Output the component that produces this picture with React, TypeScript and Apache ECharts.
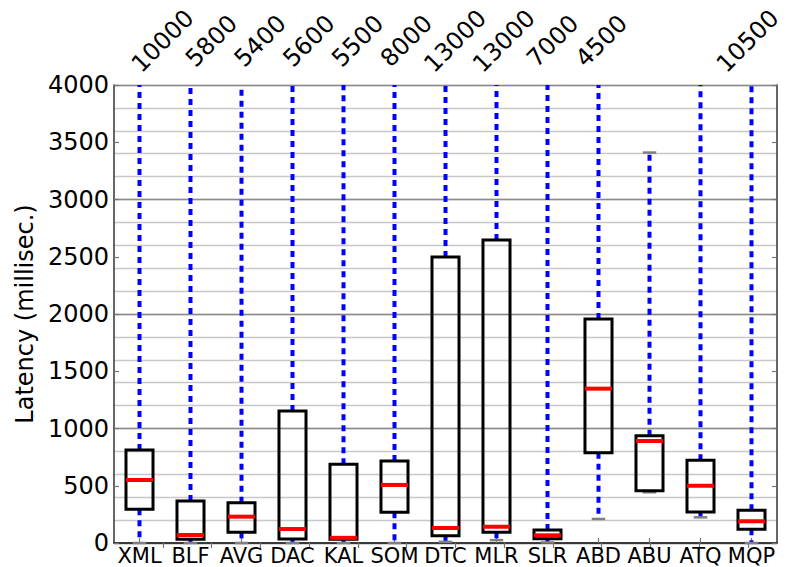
import React, { useEffect, useRef } from "react";
import * as echarts from "echarts";

// Systems on the x axis
const categories = ["XML", "BLF", "AVG", "DAC", "KAL", "SOM", "DTC", "MLR", "SLR", "ABD", "ABU", "ATQ", "MQP"];

// Box-plot statistics, latency in milliseconds
const whiskerLow = [0, 0, 0, 0, 0, 0, 10, 25, 5, 210, 443, 224, 0];
const quartile1 = [294, 32, 93, 35, 32, 268, 64, 93, 38, 789, 457, 271, 120];
const medians = [550, 70, 230, 122, 45, 507, 131, 142, 67, 1348, 891, 500, 190];
const quartile3 = [812, 367, 352, 1153, 687, 716, 2498, 2646, 114, 1956, 937, 722, 286];
const whiskerHigh = [10000, 5800, 5400, 5600, 5500, 8000, 13000, 13000, 7000, 4500, 3410, 10500, 10500];

// Maximum values printed along the top axis
const maxLabels = ["10000", "5800", "5400", "5600", "5500", "8000", "13000", "13000", "7000", "4500", "", "", "10500"];

const Y_MAX = 4000;
const TOP_AXIS_MAX = 13.6;
const BOX_WIDTH = 0.53;
const FONT = "DejaVu Sans";

export default function App() {
  const ref = useRef<HTMLDivElement>(null);

  useEffect(() => {
    if (!ref.current) return;
    const chart = echarts.init(ref.current, null, { renderer: "svg" });

    const data = categories.map((_, i) => [
      i,
      whiskerLow[i],
      quartile1[i],
      medians[i],
      quartile3[i],
      whiskerHigh[i],
    ]);

    const axisLineStyle = { color: "#333", width: 1.5 };
    const tickStyle = { color: "#777", width: 1.2 };

    chart.setOption({
      animation: false,
      backgroundColor: "#fff",
      grid: { left: 114, right: 9, top: 85, bottom: 24, containLabel: false, outerBoundsMode: "none" },
      xAxis: [
        {
          type: "category",
          data: categories,
          position: "bottom",
          boundaryGap: true,
          axisLine: { show: true, lineStyle: axisLineStyle },
          axisTick: { show: true, inside: true, length: 5, alignWithLabel: true, lineStyle: tickStyle },
          axisLabel: { interval: 0, color: "#000", fontSize: 21, fontFamily: FONT, margin: 2 },
          splitLine: { show: false },
        },
        {
          type: "value",
          position: "top",
          min: 0,
          max: TOP_AXIS_MAX,
          interval: 1,
          axisLine: { show: true, lineStyle: axisLineStyle },
          axisTick: { show: true, inside: true, length: 5, lineStyle: tickStyle },
          axisLabel: {
            show: true,
            rotate: 45,
            align: "center",
            verticalAlign: "middle",
            margin: 44,
            showMinLabel: false,
            showMaxLabel: false,
            color: "#000",
            fontSize: 24,
            fontFamily: FONT,
            formatter: (v: number) => {
              const k = Math.round(v);
              return k >= 1 && k <= maxLabels.length ? maxLabels[k - 1] : "";
            },
          },
          splitLine: { show: false },
        },
      ],
      yAxis: [
        {
          type: "value",
          min: 0,
          max: Y_MAX,
          interval: 500,
          position: "left",
          name: "Latency (millisec.)",
          nameLocation: "middle",
          nameRotate: 90,
          nameGap: 67,
          nameTextStyle: { color: "#000", fontSize: 24, fontFamily: FONT },
          axisLine: { show: true, lineStyle: axisLineStyle },
          axisTick: { show: true, inside: true, length: 5, lineStyle: tickStyle },
          axisLabel: {
            color: "#000",
            fontSize: 24,
            fontFamily: FONT,
            margin: 5,
            formatter: (v: number) => String(v),
          },
          splitLine: { show: false },
        },
        {
          // fine grid every 200 ms
          type: "value",
          min: 0,
          max: Y_MAX,
          interval: 200,
          position: "left",
          axisLine: { show: false },
          axisTick: { show: false },
          axisLabel: { show: false },
          splitLine: { show: true, lineStyle: { color: "#c8c8c8", width: 1.3 } },
        },
        {
          // stronger grid every 1000 ms
          type: "value",
          min: 0,
          max: Y_MAX,
          interval: 1000,
          position: "left",
          axisLine: { show: false },
          axisTick: { show: false },
          axisLabel: { show: false },
          splitLine: { show: true, lineStyle: { color: "#8a8a8a", width: 1.3 } },
        },
        {
          type: "value",
          min: 0,
          max: Y_MAX,
          interval: 500,
          position: "right",
          axisLine: { show: true, lineStyle: axisLineStyle },
          axisTick: { show: true, inside: true, length: 5, lineStyle: tickStyle },
          axisLabel: { show: false },
          splitLine: { show: false },
        },
      ],
      series: [
        {
          type: "custom",
          xAxisIndex: 0,
          yAxisIndex: 0,
          data,
          encode: { x: 0, y: [1, 2, 3, 4, 5] },
          renderItem: (_params: any, api: any) => {
            const i = api.value(0);
            const lo = api.value(1);
            const q1 = api.value(2);
            const med = api.value(3);
            const q3 = api.value(4);
            const hi = api.value(5);
            const cx = api.coord([i, 0])[0];
            const band = api.size([1, 0])[0];
            const half = (band * BOX_WIDTH) / 2;
            const capHalf = half / 2;
            const y = (v: number) => api.coord([i, Math.min(v, Y_MAX)])[1];
            const dash = { stroke: "#0000ff", lineWidth: 4, lineDash: [6, 5], fill: null };
            const capStyle = { stroke: "#808080", lineWidth: 2.5, fill: null };
            const children: any[] = [
              { type: "line", shape: { x1: cx, y1: y(q3), x2: cx, y2: y(hi) }, style: dash },
              { type: "line", shape: { x1: cx, y1: y(q1), x2: cx, y2: y(lo) }, style: dash },
              { type: "line", shape: { x1: cx - capHalf, y1: y(lo), x2: cx + capHalf, y2: y(lo) }, style: capStyle },
            ];
            if (hi <= Y_MAX) {
              children.push({
                type: "line",
                shape: { x1: cx - capHalf, y1: y(hi), x2: cx + capHalf, y2: y(hi) },
                style: capStyle,
              });
            }
            children.push({
              type: "rect",
              shape: { x: cx - half, y: y(q3), width: half * 2, height: y(q1) - y(q3) },
              style: { stroke: "#000", lineWidth: 3, fill: null },
            });
            children.push({
              type: "line",
              shape: { x1: cx - half, y1: y(med), x2: cx + half, y2: y(med) },
              style: { stroke: "#ff0000", lineWidth: 4, fill: null },
            });
            return { type: "group", children };
          },
        },
      ],
    });

    return () => chart.dispose();
  }, []);

  return <div ref={ref} style={{ width: 786, height: 567, position: "absolute", left: 0, top: 0 }} />;
}
